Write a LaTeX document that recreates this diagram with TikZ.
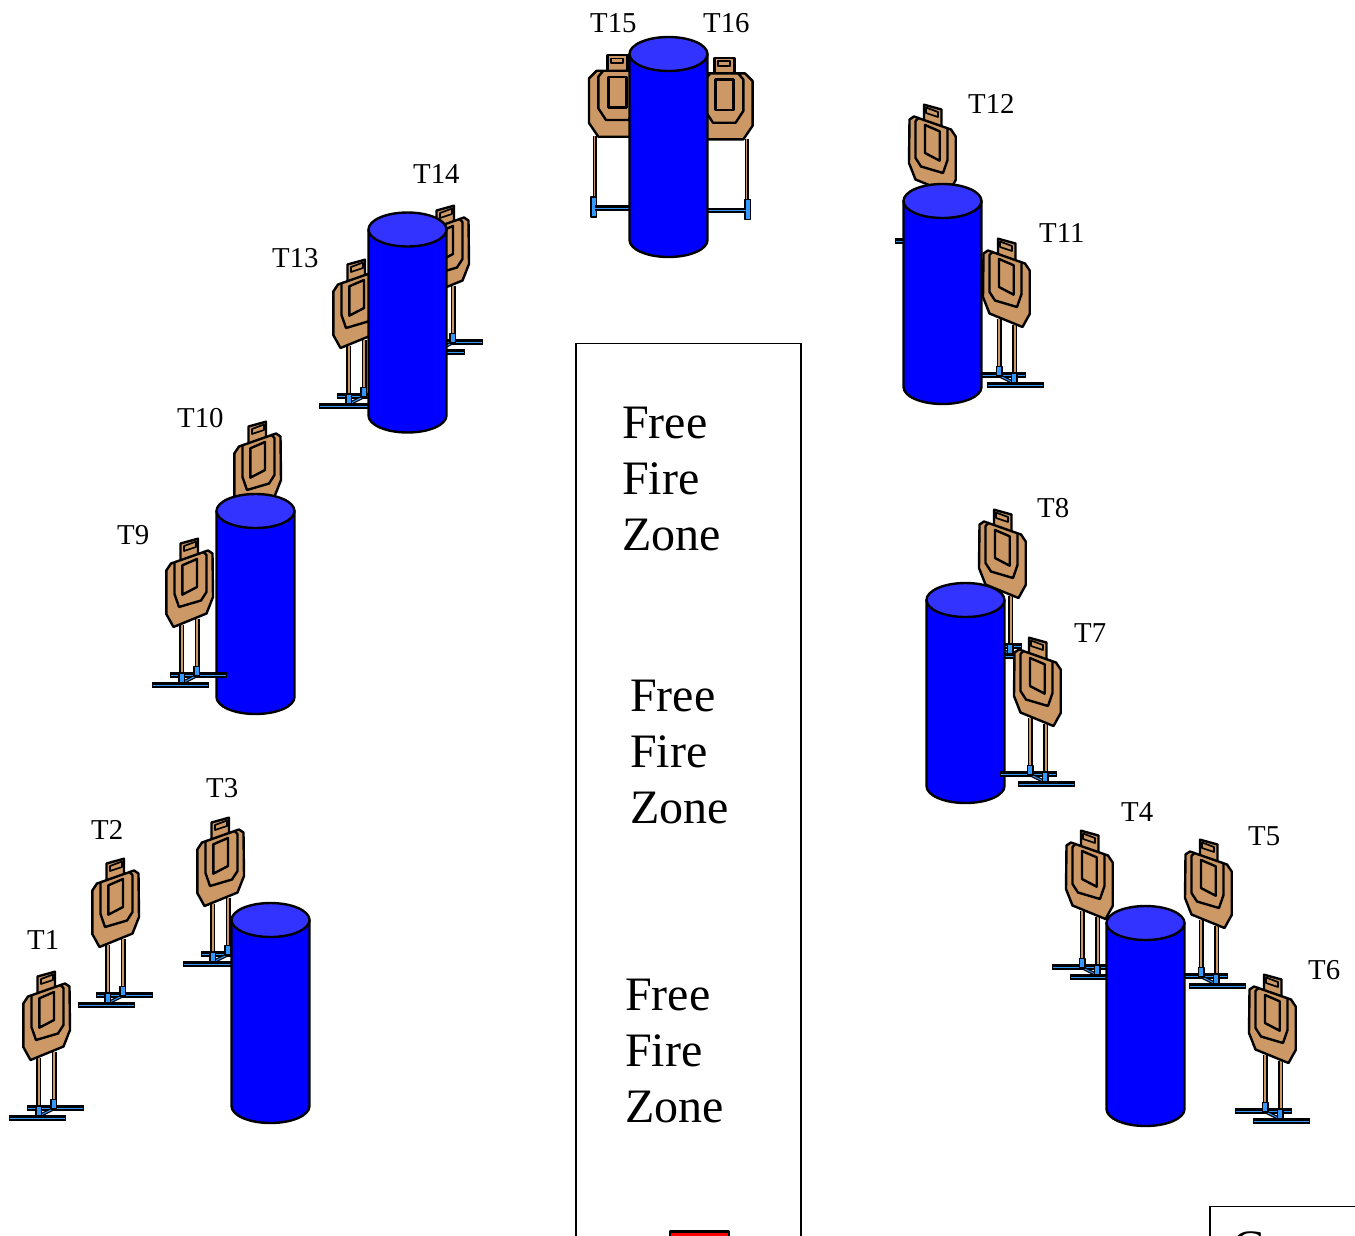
\documentclass[tikz,border=0pt]{standalone}
\usepackage{fontspec}
\setmainfont{Liberation Serif}
\definecolor{tan1}{HTML}{CC9966}
\definecolor{sky}{HTML}{3399FF}
\definecolor{cyl}{HTML}{0000FF}
\definecolor{cyltop}{HTML}{3333FF}
\tikzset{
  x=1pt,y=-1pt,
  ln/.style={draw=black,line width=2.4pt,line join=round},
  thinln/.style={draw=black,line width=1.7pt,line join=round},
  lbl/.style={anchor=base west,inner sep=0pt,font=\fontsize{28.8}{34}\selectfont},
  big/.style={anchor=base west,inner sep=0pt,align=left,font=\fontsize{48}{55.8}\selectfont},
  barblack/.style={black,line width=5.4pt},
  barblue/.style={sky,line width=1pt},
  legblack/.style={black,line width=5pt},
  legtan/.style={tan1,line width=2pt},
  pics/target/.style={code={
    % bars
    \draw[barblack] (27,148) -- (84,148);
    \draw[barblue] (28,148) -- (83,148);
    \draw[barblack] (9,158) -- (66,158);
    \draw[barblue] (10,158) -- (65,158);
    \draw[black,line width=3.4pt] (41,155) -- (55,148);
    \draw[sky,line width=1pt] (41,155) -- (55,148);
    % legs
    \draw[legblack] (38.5,98) -- (38.5,147);
    \draw[legtan] (38.5,98) -- (38.5,147);
    \draw[legblack] (54,92) -- (54,140);
    \draw[legtan] (54,92) -- (54,140);
    % feet
    \draw[thinln,fill=sky] (36,146) rectangle (41.5,156);
    \draw[thinln,fill=sky] (51,139.5) rectangle (56.5,149);
    % head
    \draw[ln,fill=tan1] (37.5,16.5) -- (55,11.7) -- (55,28) -- (37.5,35) -- cycle;
    \draw[thinln,fill=tan1] (41,19) -- (53,14.5) -- (53,20) -- (41,24) -- cycle;
    % body
    \draw[ln,fill=tan1] (23.3,43.5) -- (28,36.5) -- (65,23.5) -- (69.5,26.5) -- (70,70) -- (63.5,86.5) -- (30.5,100) -- (23.3,87) -- cycle;
    \draw[ln] (31.5,36) -- (31.5,67) -- (36,80) -- (58,73.5) -- (63.5,65) -- (63.5,28) -- (60,24.5);
    \draw[ln] (39.3,38.3) -- (54,32) -- (54,60) -- (39.3,67.7) -- cycle;
  }},
  pics/fronttarget/.style={code={
    \foreach \s in {-1,1}{
      \draw[legblack,line width=4pt] (\s*22.5,81) -- (\s*22.5,143);
      \draw[legtan,line width=1pt] (\s*22.5,81) -- (\s*22.5,143);
      \draw[thinln,fill=sky] (\s*20.7,141.7) rectangle (\s*26.3,161.7);
    }
    \draw[barblack] (-22,153) -- (22,153);
    \draw[barblue] (-22,153) -- (22,153);
    \draw[ln,fill=tan1] (-10,0) rectangle (10,16);
    \draw[thinln,fill=tan1] (-6,3.5) rectangle (6,8);
    \draw[ln,fill=tan1] (-28.3,23.3) -- (-20.7,15.7) -- (20.7,15.7) -- (28.3,23.3) -- (28.3,68) -- (19,81.7) -- (-19,81.7) -- (-28.3,68) -- cycle;
    \draw[ln] (-14,15.7) -- (-19,21.7) -- (-19,53.3) -- (-11.3,65) -- (11.3,65) -- (19,53.3) -- (19,21.7) -- (14,15.7);
    \draw[ln] (-9,21.7) rectangle (9,52.3);
  }},
  pics/cylinder/.style={code={
    \draw[ln,fill=cyl] (0,17) -- (0,203) arc[start angle=180,end angle=360,x radius=39pt,y radius=17pt] -- (78,17) -- cycle;
    \draw[ln,fill=cyltop] (39,17) ellipse[x radius=39pt,y radius=17pt];
  }}
}
\begin{document}
\begin{tikzpicture}
\useasboundingbox (0,0) rectangle (1355,1235);
\clip (0,0) rectangle (1355,1235);
% targets behind the cylinders
\pic at (174,806) {target};
\pic at (211,410) {target};
\pic at (310,248) {target};
\pic at (399,194) {target};
\pic at (617.3,55) {fronttarget};
\pic at (724.3,57.7) {fronttarget};
\pic[xscale=-1] at (979,93) {target};
\pic[xscale=-1] at (1053,227) {target};
\pic[xscale=-1] at (1049,498) {target};
\pic[xscale=-1] at (1136,819) {target};
\pic[xscale=-1] at (1255,828) {target};
% cylinders
\pic at (629.5,37) {cylinder};
\pic at (368.5,212.5) {cylinder};
\pic at (903.5,184) {cylinder};
\pic at (216.5,494) {cylinder};
\pic at (926.5,583) {cylinder};
\pic at (231.5,903) {cylinder};
\pic at (1106.5,906) {cylinder};
% targets in front
\pic at (0,960) {target};
\pic at (69,847) {target};
\pic at (143,527) {target};
\pic[xscale=-1] at (1084,626) {target};
\pic[xscale=-1] at (1319,963) {target};
% boxes
\draw[black,line width=1.6pt] (576,1300) -- (576,343.5) -- (801,343.5) -- (801,1300);
\draw[ln,fill=red] (670,1231.5) rectangle (729,1300);
\draw[black,line width=1.6pt] (1210,1300) -- (1210,1206.5) -- (1400,1206.5);
\node[big] (c1) at (1232,1263) {C};
% zone text
\node[big] (z1) at (622,550.5) {Free\\Fire\\Zone};
\node[big] (z2) at (630,823) {Free\\Fire\\Zone};
\node[big] (z3) at (625,1122) {Free\\Fire\\Zone};
% labels
\node[lbl] (t1) at (27,949) {T1};
\node[lbl] (t2) at (91,839) {T2};
\node[lbl] (t3) at (206,797) {T3};
\node[lbl] (t4) at (1121,821) {T4};
\node[lbl] (t5) at (1248,845) {T5};
\node[lbl] (t6) at (1308,979) {T6};
\node[lbl] (t7) at (1074,642) {T7};
\node[lbl] (t8) at (1037,517) {T8};
\node[lbl] (t9) at (117,544) {T9};
\node[lbl] (t10) at (177,427) {T10};
\node[lbl] (t11) at (1039,242) {T11};
\node[lbl] (t12) at (968,113) {T12};
\node[lbl] (t13) at (272,267) {T13};
\node[lbl] (t14) at (413,183) {T14};
\node[lbl] (t15) at (590,32) {T15};
\node[lbl] (t16) at (703,32) {T16};
\end{tikzpicture}
\end{document}
